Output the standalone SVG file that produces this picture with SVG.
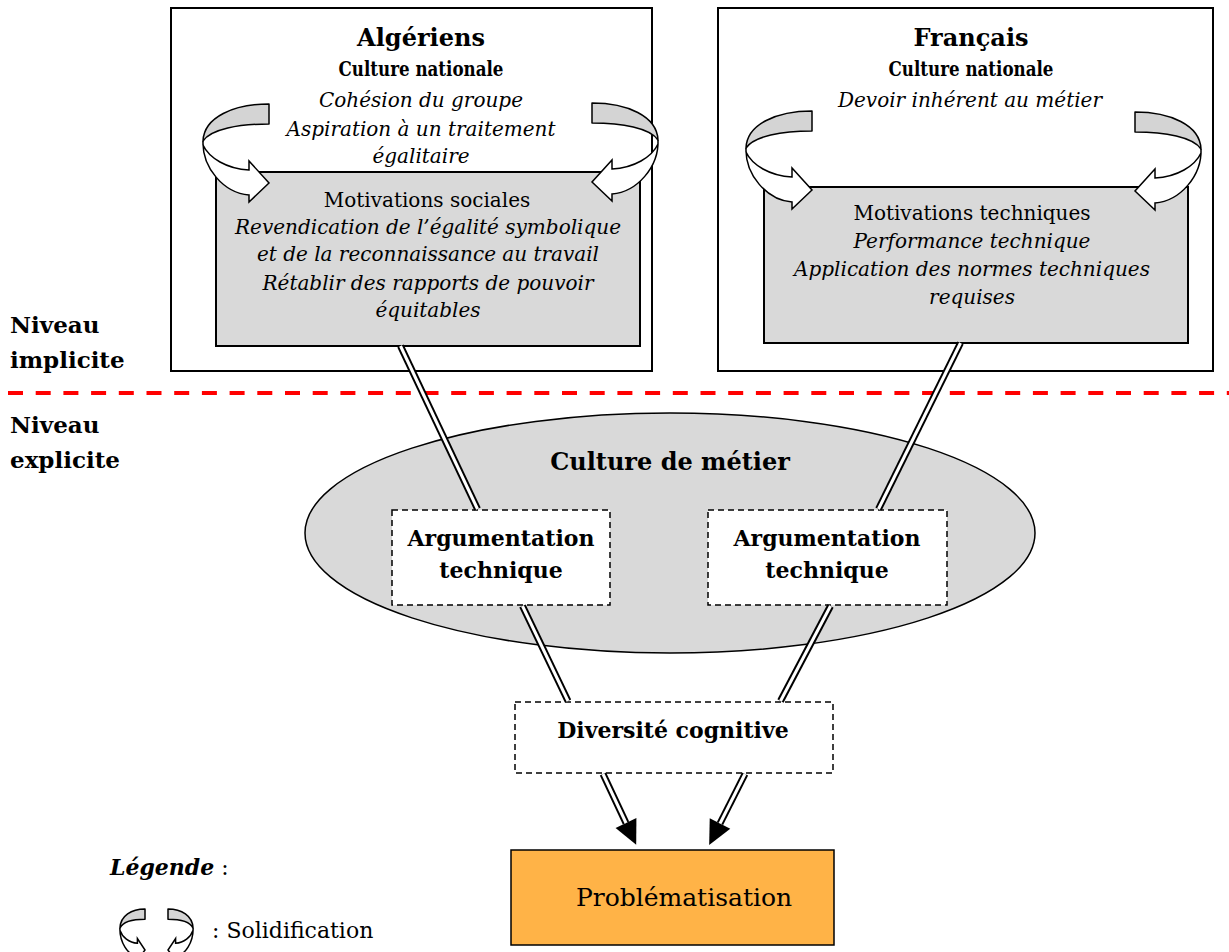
<svg xmlns="http://www.w3.org/2000/svg" xmlns:xlink="http://www.w3.org/1999/xlink" width="1229" height="952" viewBox="0 0 1229 952">
<style>
text{font-family:"DejaVu Serif","Liberation Serif",serif;fill:#000}
.c{text-anchor:middle}
.b{font-weight:bold}
.i{font-style:italic}
.h1{font-size:24px;font-weight:bold}
.h2{font-size:22px;font-weight:bold}
.cn{font-family:"DejaVu Serif Condensed","DejaVu Serif",serif;font-size:21px;font-weight:bold}
.nv{font-size:23px;font-weight:bold}
.t{font-size:20px}
.panel{fill:#fff;stroke:#000;stroke-width:2}
.gray{fill:#d9d9d9;stroke:#000;stroke-width:2}
.dash{fill:#fff;stroke:#000;stroke-width:1.5;stroke-dasharray:6 4}
.back{fill:#d4d4d4;stroke:#000;stroke-width:1.5;stroke-linejoin:round;vector-effect:non-scaling-stroke}
.front{fill:#fff;stroke:#000;stroke-width:1.5;stroke-linejoin:miter;vector-effect:non-scaling-stroke}
.dbo{stroke:#000;stroke-width:7;fill:none}
.dbi{stroke:#fff;stroke-width:3;fill:none}
</style>
<defs>
<g id="curl">
<path class="back" d="M0,-79 C-35,-79 -65,-66 -66,-42 C-58,-54 -30,-59 0,-59 Z"/>
<path class="front" d="M-66,-42 C-67,-15 -45,10 -20,12 L-20,19 L0,0 L-20,-22 L-20,-13 C-42,-14 -60,-25 -66,-38 Z"/>
</g>
<marker id="ah" markerUnits="userSpaceOnUse" viewBox="0 -12 24 24" refX="0" refY="0" markerWidth="24" markerHeight="24" orient="auto" overflow="visible">
<path d="M0,-11.5 L24,0 L0,11.5 Z" fill="#000"/>
</marker>
</defs>

<line x1="8" y1="393" x2="1229" y2="393" stroke="#ff0000" stroke-width="4" stroke-dasharray="15 12.7"/>

<g id="niveau-implicite">
<text class="nv" x="10" y="333">Niveau</text>
<text class="nv" x="10" y="368">implicite</text>
</g>
<g id="niveau-explicite">
<text class="nv" x="10" y="433">Niveau</text>
<text class="nv" x="10" y="468">explicite</text>
</g>

<g id="algeriens">
<rect class="panel" x="171" y="8" width="481" height="363"/>
<text class="c h1" x="421" y="46">Algériens</text>
<text class="c cn" x="421" y="76" textLength="165" lengthAdjust="spacingAndGlyphs">Culture nationale</text>
<text class="c t i" x="421" y="107">Cohésion du groupe</text>
<text class="c t i" x="421" y="136">Aspiration à un traitement</text>
<text class="c t i" x="421" y="163">égalitaire</text>
</g>
<g id="motivations-sociales">
<rect class="gray" x="216" y="172" width="424" height="174"/>
<text class="c t" x="427" y="207">Motivations sociales</text>
<text class="c t i" x="428" y="234" font-size="19.5">Revendication de l’égalité symbolique</text>
<text class="c t i" x="428" y="261" font-size="19.5">et de la reconnaissance au travail</text>
<text class="c t i" x="428" y="290" font-size="19.5">Rétablir des rapports de pouvoir</text>
<text class="c t i" x="428" y="317" font-size="19.5">équitables</text>
</g>
<g id="curls-algeriens">
<use xlink:href="#curl" href="#curl" transform="translate(269,183)"/>
<use xlink:href="#curl" href="#curl" transform="translate(592,182) scale(-1,1)"/>
</g>

<g id="francais">
<rect class="panel" x="718" y="8" width="495" height="363"/>
<text class="c h1" x="971" y="46">Français</text>
<text class="c cn" x="971" y="76" textLength="165" lengthAdjust="spacingAndGlyphs">Culture nationale</text>
<text class="c t i" x="970" y="107">Devoir inhérent au métier</text>
</g>
<g id="motivations-techniques">
<rect class="gray" x="764" y="187" width="424" height="156"/>
<text class="c t" x="972" y="220">Motivations techniques</text>
<text class="c t i" x="972" y="248">Performance technique</text>
<text class="c t i" x="972" y="276">Application des normes techniques</text>
<text class="c t i" x="972" y="304">requises</text>
</g>
<g id="curls-francais">
<use xlink:href="#curl" href="#curl" transform="translate(812,190)"/>
<use xlink:href="#curl" href="#curl" transform="translate(1135,191) scale(-1,1)"/>
</g>

<g id="culture-metier">
<ellipse cx="670" cy="533" rx="365" ry="120" fill="#d9d9d9" stroke="#000" stroke-width="1.5"/>
<text class="c h1" x="670" y="470" font-size="25">Culture de métier</text>
</g>

<g id="argumentation-1">
<rect class="dash" x="392" y="510" width="218" height="95"/>
<text class="c h2" x="501" y="546">Argumentation</text>
<text class="c h2" x="501" y="578">technique</text>
</g>
<g id="argumentation-2">
<rect class="dash" x="708" y="510" width="239" height="95"/>
<text class="c h2" x="827" y="546">Argumentation</text>
<text class="c h2" x="827" y="578">technique</text>
</g>

<g id="diversite">
<rect class="dash" x="515" y="702" width="318" height="71"/>
<text class="c h2" x="673" y="738" font-size="21">Diversité cognitive</text>
</g>

<g id="problematisation">
<rect x="511" y="850" width="323" height="95" fill="#ffb347" stroke="#000" stroke-width="1.5"/>
<text class="c" x="684" y="906" font-size="25">Problématisation</text>
</g>

<g id="connectors">
<line class="dbo" x1="400.5" y1="346" x2="477.5" y2="509"/>
<line class="dbi" x1="400.5" y1="346" x2="477.5" y2="509"/>
<line class="dbo" x1="960.5" y1="343" x2="878.5" y2="509"/>
<line class="dbi" x1="960.5" y1="343" x2="878.5" y2="509"/>
<line class="dbo" x1="522.5" y1="606" x2="568" y2="701"/>
<line class="dbi" x1="522.5" y1="606" x2="568" y2="701"/>
<line class="dbo" x1="830.5" y1="606" x2="780.5" y2="701"/>
<line class="dbi" x1="830.5" y1="606" x2="780.5" y2="701"/>
<line class="dbo" x1="603" y1="774" x2="626" y2="823" marker-end="url(#ah)"/>
<line class="dbi" x1="603" y1="774" x2="626" y2="823"/>
<line class="dbo" x1="745" y1="774" x2="720" y2="823.5" marker-end="url(#ah)"/>
<line class="dbi" x1="745" y1="774" x2="720" y2="823.5"/>
</g>

<g id="legende">
<text x="110" y="875" font-size="22"><tspan class="b i">Légende</tspan> :</text>
<use xlink:href="#curl" href="#curl" transform="translate(145,950) scale(0.38,0.52)"/>
<use xlink:href="#curl" href="#curl" transform="translate(168,950) scale(-0.38,0.52)"/>
<text x="212" y="938" font-size="22">: Solidification</text>
</g>
</svg>
